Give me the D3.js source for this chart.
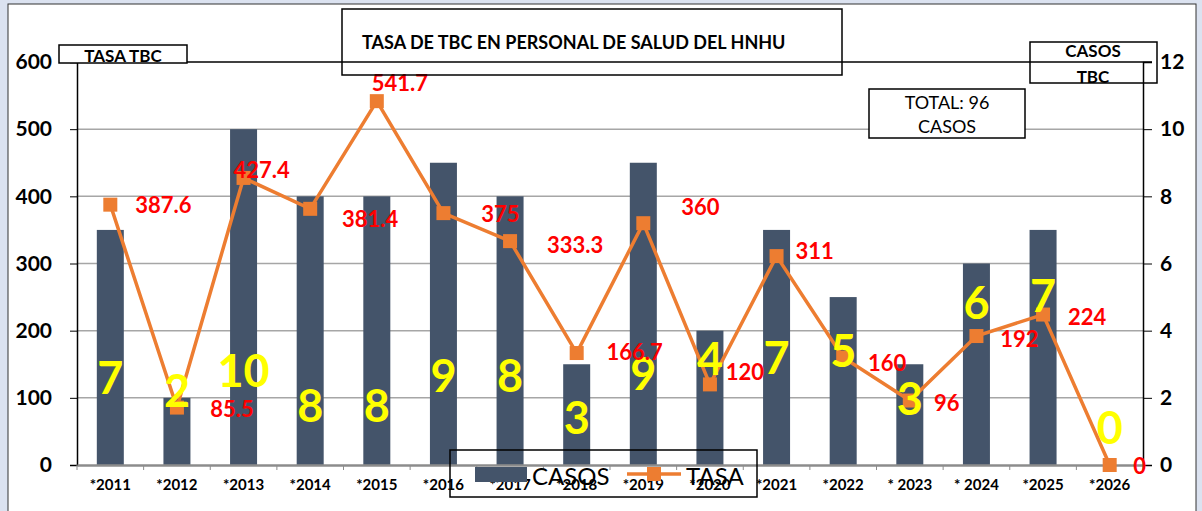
<!DOCTYPE html>
<html>
<head>
<meta charset="utf-8">
<script src="https://cdn.jsdelivr.net/npm/d3@7"></script>
<style>
  body { margin: 0; background: #dbe2f0; }
  svg { display: block; }
  text { font-family: Lato, "Open Sans", sans-serif; }
</style>
</head>
<body>
<div id="chart"></div>
<script>
const years = ["*2011", "*2012", "*2013", "*2014", "*2015", "*2016", "*2017", "*2018",
  "*2019", "*2020", "*2021", "*2022", "* 2023", "* 2024", "*2025", "*2026"];
const casos = [7, 2, 10, 8, 8, 9, 8, 3, 9, 4, 7, 5, 3, 6, 7, 0];
const tasa = [387.6, 85.5, 427.4, 381.4, 541.7, 375, 333.3, 166.7, 360, 120, 311, 160, 96, 192, 224, 0];
const leftTicks = [0, 100, 200, 300, 400, 500, 600];
const rightTicks = [0, 2, 4, 6, 8, 10, 12];

// label placement (offsets from the point)
const tasaOff = [[53, 0], [55, 1], [18, -8], [60, 10], [23, -19], [57, 0], [65, 3], [58, -2],
  [57, -17], [35, -13], [38, -6], [44, 5], [37, 2], [43, 2], [44, 2], [30, 0]];
const casosY = [377, 390, 370, 405, 405, 375, 375, 417, 373, 358, 357, 350, 398, 302, 295, 427];

const width = 1202, height = 511;
const margin = { top: 62, bottom: 46, left: 77, right: 59 };

const svg = d3.select("#chart").append("svg")
  .attr("width", width)
  .attr("height", height);

svg.append("rect")
  .attr("x", 8).attr("y", 4)
  .attr("width", 1188).attr("height", 520)
  .attr("fill", "white")
  .attr("stroke", "#333").attr("stroke-width", 1);

const x = d3.scaleBand()
  .domain(years)
  .range([margin.left, width - margin.right]);

const yL = d3.scaleLinear().domain([0, 600]).range([height - margin.bottom, margin.top]);
const yR = d3.scaleLinear().domain([0, 12]).range([height - margin.bottom, margin.top]);

// gridlines
svg.append("g")
  .selectAll("line")
  .data(leftTicks.slice(1, -1))
  .join("line")
  .attr("x1", margin.left).attr("x2", width - margin.right)
  .attr("y1", d => yL(d)).attr("y2", d => yL(d))
  .attr("stroke", "#a6a6a6").attr("stroke-width", 1.5);

// top border
svg.append("line")
  .attr("x1", margin.left).attr("x2", width - margin.right + 9)
  .attr("y1", yL(600)).attr("y2", yL(600))
  .attr("stroke", "black").attr("stroke-width", 1.5);

// bars
const bw = 27;
svg.append("g")
  .selectAll("rect")
  .data(casos)
  .join("rect")
  .attr("x", (d, i) => x(years[i]) + x.bandwidth() / 2 - bw / 2)
  .attr("y", d => yR(d))
  .attr("width", bw)
  .attr("height", d => yR(0) - yR(d))
  .attr("fill", "#44546a");

// left axis
const axL = svg.append("g")
  .attr("transform", `translate(${margin.left},0)`)
  .call(d3.axisLeft(yL).tickValues(leftTicks).tickSize(7).tickPadding(18));
axL.select(".domain").attr("stroke", "black").attr("stroke-width", 1.5);
axL.selectAll("line").attr("stroke", "black");
axL.selectAll("text")
  .attr("font-family", "Lato, sans-serif")
  .attr("font-size", 21).attr("font-weight", "bold").attr("fill", "black");

// right axis
const axR = svg.append("g")
  .attr("transform", `translate(${width - margin.right},0)`)
  .call(d3.axisRight(yR).tickValues(rightTicks).tickSize(9).tickPadding(8));
axR.select(".domain").attr("stroke", "black").attr("stroke-width", 1.5);
axR.selectAll("line").attr("stroke", "black");
axR.selectAll("text")
  .attr("font-family", "Lato, sans-serif")
  .attr("font-size", 21).attr("font-weight", "bold").attr("fill", "black");

// bottom axis
const axB = svg.append("g")
  .attr("transform", `translate(0,${yL(0)})`)
  .call(d3.axisBottom(x).tickSize(0).tickPadding(14));
axB.select(".domain").attr("stroke", "#8c8c8c").attr("stroke-width", 2.5);
axB.selectAll("text")
  .attr("font-family", "Lato, sans-serif")
  .attr("font-size", 15).attr("font-weight", "bold").attr("fill", "black");
axB.selectAll(".sep")
  .data(years.concat(["end"]))
  .join("line")
  .attr("class", "sep")
  .attr("x1", (d, i) => margin.left + i * x.step())
  .attr("x2", (d, i) => margin.left + i * x.step())
  .attr("y1", 0).attr("y2", 5)
  .attr("stroke", "#8c8c8c");

// tasa line
const cx = i => x(years[i]) + x.bandwidth() / 2;
const line = d3.line().x((d, i) => cx(i)).y(d => yL(d));
svg.append("path")
  .datum(tasa)
  .attr("d", line)
  .attr("fill", "none")
  .attr("stroke", "#ed7d31")
  .attr("stroke-width", 3.5);

svg.append("g")
  .selectAll("rect")
  .data(tasa)
  .join("rect")
  .attr("x", (d, i) => cx(i) - 7)
  .attr("y", d => yL(d) - 7)
  .attr("width", 14).attr("height", 14)
  .attr("fill", "#ed7d31");

// casos labels
svg.append("g")
  .selectAll("text")
  .data(casos)
  .join("text")
  .attr("x", (d, i) => cx(i))
  .attr("y", (d, i) => casosY[i])
  .attr("text-anchor", "middle")
  .attr("dominant-baseline", "central")
  .attr("font-size", 45)
  .attr("font-weight", "bold")
  .attr("fill", "#ffff00")
  .text(d => d);

// tasa labels
svg.append("g")
  .selectAll("text")
  .data(tasa)
  .join("text")
  .attr("x", (d, i) => cx(i) + tasaOff[i][0])
  .attr("y", (d, i) => yL(d) + tasaOff[i][1])
  .attr("text-anchor", "middle")
  .attr("dominant-baseline", "central")
  .attr("font-size", 22)
  .attr("font-weight", "bold")
  .attr("fill", "#ff0000")
  .text(d => d);

// title box
svg.append("rect")
  .attr("x", 342).attr("y", 9).attr("width", 500).attr("height", 66)
  .attr("fill", "none").attr("stroke", "black").attr("stroke-width", 1.5);
svg.append("text")
  .attr("x", 362).attr("y", 49)
  .attr("font-size", 18).attr("font-weight", "bold")
  .text("TASA DE TBC EN PERSONAL DE SALUD DEL HNHU");

// TASA TBC box
svg.append("rect")
  .attr("x", 59).attr("y", 45).attr("width", 128).attr("height", 18)
  .attr("fill", "white").attr("stroke", "black").attr("stroke-width", 1.5);
svg.append("text")
  .attr("x", 123).attr("y", 62)
  .attr("text-anchor", "middle")
  .attr("font-size", 17).attr("font-weight", "bold")
  .text("TASA TBC");

// CASOS TBC box
svg.append("rect")
  .attr("x", 1030).attr("y", 42).attr("width", 127).attr("height", 41)
  .attr("fill", "none").attr("stroke", "black").attr("stroke-width", 1.5);
svg.append("text")
  .attr("x", 1093).attr("y", 57)
  .attr("text-anchor", "middle")
  .attr("font-size", 17).attr("font-weight", "bold")
  .text("CASOS");
svg.append("text")
  .attr("x", 1093).attr("y", 83)
  .attr("text-anchor", "middle")
  .attr("font-size", 17).attr("font-weight", "bold")
  .text("TBC");

// total box
svg.append("rect")
  .attr("x", 869).attr("y", 89).attr("width", 156).attr("height", 49)
  .attr("fill", "white").attr("stroke", "black").attr("stroke-width", 1.5);
svg.append("text")
  .attr("x", 947).attr("y", 109)
  .attr("text-anchor", "middle")
  .attr("font-size", 18)
  .text("TOTAL: 96");
svg.append("text")
  .attr("x", 947).attr("y", 133)
  .attr("text-anchor", "middle")
  .attr("font-size", 18)
  .text("CASOS");

// legend
svg.append("rect")
  .attr("x", 450).attr("y", 450).attr("width", 307).attr("height", 47)
  .attr("fill", "none").attr("stroke", "black").attr("stroke-width", 1.5);
svg.append("rect")
  .attr("x", 475).attr("y", 467).attr("width", 52).attr("height", 15)
  .attr("fill", "#44546a");
svg.append("text")
  .attr("x", 532).attr("y", 475)
  .attr("dominant-baseline", "central")
  .attr("font-size", 24)
  .text("CASOS");
svg.append("line")
  .attr("x1", 627).attr("x2", 681).attr("y1", 474).attr("y2", 474)
  .attr("stroke", "#ed7d31").attr("stroke-width", 3.5);
svg.append("rect")
  .attr("x", 647).attr("y", 467).attr("width", 14).attr("height", 14)
  .attr("fill", "#ed7d31");
svg.append("text")
  .attr("x", 686).attr("y", 475)
  .attr("dominant-baseline", "central")
  .attr("font-size", 24)
  .text("TASA");
</script>
</body>
</html>
